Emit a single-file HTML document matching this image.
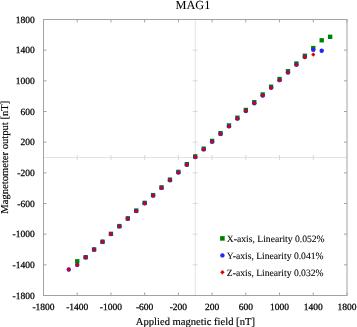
<!DOCTYPE html>
<html><head><meta charset="utf-8"><title>MAG1</title>
<style>html,body{margin:0;padding:0;background:#fff;width:357px;height:327px;overflow:hidden}svg{display:block}text{font-family:"Liberation Serif",serif;text-rendering:geometricPrecision}</style>
</head><body>
<div style="will-change:transform;width:357px;height:327px">
<svg width="357" height="327" viewBox="0 0 357 327">
<rect width="357" height="327" fill="#fff"/>
<line x1="43.5" y1="157.50" x2="347.0" y2="157.50" stroke="#e2e2e2" stroke-width="1"/>
<line x1="195.25" y1="19.5" x2="195.25" y2="295.5" stroke="#e2e2e2" stroke-width="1"/>
<line x1="192.75" y1="50.17" x2="197.75" y2="50.17" stroke="#d8d8d8" stroke-width="1"/>
<line x1="313.28" y1="155.00" x2="313.28" y2="160.00" stroke="#d8d8d8" stroke-width="1"/>
<line x1="192.75" y1="80.83" x2="197.75" y2="80.83" stroke="#d8d8d8" stroke-width="1"/>
<line x1="279.56" y1="155.00" x2="279.56" y2="160.00" stroke="#d8d8d8" stroke-width="1"/>
<line x1="192.75" y1="111.50" x2="197.75" y2="111.50" stroke="#d8d8d8" stroke-width="1"/>
<line x1="245.83" y1="155.00" x2="245.83" y2="160.00" stroke="#d8d8d8" stroke-width="1"/>
<line x1="192.75" y1="142.17" x2="197.75" y2="142.17" stroke="#d8d8d8" stroke-width="1"/>
<line x1="212.11" y1="155.00" x2="212.11" y2="160.00" stroke="#d8d8d8" stroke-width="1"/>
<line x1="192.75" y1="172.83" x2="197.75" y2="172.83" stroke="#d8d8d8" stroke-width="1"/>
<line x1="178.39" y1="155.00" x2="178.39" y2="160.00" stroke="#d8d8d8" stroke-width="1"/>
<line x1="192.75" y1="203.50" x2="197.75" y2="203.50" stroke="#d8d8d8" stroke-width="1"/>
<line x1="144.67" y1="155.00" x2="144.67" y2="160.00" stroke="#d8d8d8" stroke-width="1"/>
<line x1="192.75" y1="234.17" x2="197.75" y2="234.17" stroke="#d8d8d8" stroke-width="1"/>
<line x1="110.94" y1="155.00" x2="110.94" y2="160.00" stroke="#d8d8d8" stroke-width="1"/>
<line x1="192.75" y1="264.83" x2="197.75" y2="264.83" stroke="#d8d8d8" stroke-width="1"/>
<line x1="77.22" y1="155.00" x2="77.22" y2="160.00" stroke="#d8d8d8" stroke-width="1"/>
<line x1="43.5" y1="19.50" x2="46.5" y2="19.50" stroke="#a2a2a2" stroke-width="1"/>
<line x1="347.0" y1="19.50" x2="344.0" y2="19.50" stroke="#a2a2a2" stroke-width="1"/>
<line x1="347.00" y1="295.5" x2="347.00" y2="292.5" stroke="#a2a2a2" stroke-width="1"/>
<line x1="347.00" y1="19.5" x2="347.00" y2="22.5" stroke="#a2a2a2" stroke-width="1"/>
<line x1="43.5" y1="50.17" x2="46.5" y2="50.17" stroke="#a2a2a2" stroke-width="1"/>
<line x1="347.0" y1="50.17" x2="344.0" y2="50.17" stroke="#a2a2a2" stroke-width="1"/>
<line x1="313.28" y1="295.5" x2="313.28" y2="292.5" stroke="#a2a2a2" stroke-width="1"/>
<line x1="313.28" y1="19.5" x2="313.28" y2="22.5" stroke="#a2a2a2" stroke-width="1"/>
<line x1="43.5" y1="80.83" x2="46.5" y2="80.83" stroke="#a2a2a2" stroke-width="1"/>
<line x1="347.0" y1="80.83" x2="344.0" y2="80.83" stroke="#a2a2a2" stroke-width="1"/>
<line x1="279.56" y1="295.5" x2="279.56" y2="292.5" stroke="#a2a2a2" stroke-width="1"/>
<line x1="279.56" y1="19.5" x2="279.56" y2="22.5" stroke="#a2a2a2" stroke-width="1"/>
<line x1="43.5" y1="111.50" x2="46.5" y2="111.50" stroke="#a2a2a2" stroke-width="1"/>
<line x1="347.0" y1="111.50" x2="344.0" y2="111.50" stroke="#a2a2a2" stroke-width="1"/>
<line x1="245.83" y1="295.5" x2="245.83" y2="292.5" stroke="#a2a2a2" stroke-width="1"/>
<line x1="245.83" y1="19.5" x2="245.83" y2="22.5" stroke="#a2a2a2" stroke-width="1"/>
<line x1="43.5" y1="142.17" x2="46.5" y2="142.17" stroke="#a2a2a2" stroke-width="1"/>
<line x1="347.0" y1="142.17" x2="344.0" y2="142.17" stroke="#a2a2a2" stroke-width="1"/>
<line x1="212.11" y1="295.5" x2="212.11" y2="292.5" stroke="#a2a2a2" stroke-width="1"/>
<line x1="212.11" y1="19.5" x2="212.11" y2="22.5" stroke="#a2a2a2" stroke-width="1"/>
<line x1="43.5" y1="172.83" x2="46.5" y2="172.83" stroke="#a2a2a2" stroke-width="1"/>
<line x1="347.0" y1="172.83" x2="344.0" y2="172.83" stroke="#a2a2a2" stroke-width="1"/>
<line x1="178.39" y1="295.5" x2="178.39" y2="292.5" stroke="#a2a2a2" stroke-width="1"/>
<line x1="178.39" y1="19.5" x2="178.39" y2="22.5" stroke="#a2a2a2" stroke-width="1"/>
<line x1="43.5" y1="203.50" x2="46.5" y2="203.50" stroke="#a2a2a2" stroke-width="1"/>
<line x1="347.0" y1="203.50" x2="344.0" y2="203.50" stroke="#a2a2a2" stroke-width="1"/>
<line x1="144.67" y1="295.5" x2="144.67" y2="292.5" stroke="#a2a2a2" stroke-width="1"/>
<line x1="144.67" y1="19.5" x2="144.67" y2="22.5" stroke="#a2a2a2" stroke-width="1"/>
<line x1="43.5" y1="234.17" x2="46.5" y2="234.17" stroke="#a2a2a2" stroke-width="1"/>
<line x1="347.0" y1="234.17" x2="344.0" y2="234.17" stroke="#a2a2a2" stroke-width="1"/>
<line x1="110.94" y1="295.5" x2="110.94" y2="292.5" stroke="#a2a2a2" stroke-width="1"/>
<line x1="110.94" y1="19.5" x2="110.94" y2="22.5" stroke="#a2a2a2" stroke-width="1"/>
<line x1="43.5" y1="264.83" x2="46.5" y2="264.83" stroke="#a2a2a2" stroke-width="1"/>
<line x1="347.0" y1="264.83" x2="344.0" y2="264.83" stroke="#a2a2a2" stroke-width="1"/>
<line x1="77.22" y1="295.5" x2="77.22" y2="292.5" stroke="#a2a2a2" stroke-width="1"/>
<line x1="77.22" y1="19.5" x2="77.22" y2="22.5" stroke="#a2a2a2" stroke-width="1"/>
<line x1="43.5" y1="295.50" x2="46.5" y2="295.50" stroke="#a2a2a2" stroke-width="1"/>
<line x1="347.0" y1="295.50" x2="344.0" y2="295.50" stroke="#a2a2a2" stroke-width="1"/>
<line x1="43.50" y1="295.5" x2="43.50" y2="292.5" stroke="#a2a2a2" stroke-width="1"/>
<line x1="43.50" y1="19.5" x2="43.50" y2="22.5" stroke="#a2a2a2" stroke-width="1"/>
<rect x="43.5" y="19.5" width="303.5" height="276.0" fill="none" stroke="#a2a2a2" stroke-width="1"/>
<rect x="75.05" y="259.13" width="4.35" height="4.35" fill="#008000"/>
<rect x="83.48" y="255.09" width="4.35" height="4.35" fill="#008000"/>
<rect x="91.91" y="247.35" width="4.35" height="4.35" fill="#008000"/>
<rect x="100.34" y="239.61" width="4.35" height="4.35" fill="#008000"/>
<rect x="108.77" y="231.64" width="4.35" height="4.35" fill="#008000"/>
<rect x="117.20" y="223.90" width="4.35" height="4.35" fill="#008000"/>
<rect x="125.63" y="216.16" width="4.35" height="4.35" fill="#008000"/>
<rect x="134.06" y="208.42" width="4.35" height="4.35" fill="#008000"/>
<rect x="142.49" y="200.68" width="4.35" height="4.35" fill="#008000"/>
<rect x="150.92" y="192.94" width="4.35" height="4.35" fill="#008000"/>
<rect x="159.35" y="185.20" width="4.35" height="4.35" fill="#008000"/>
<rect x="167.78" y="177.45" width="4.35" height="4.35" fill="#008000"/>
<rect x="176.21" y="169.71" width="4.35" height="4.35" fill="#008000"/>
<rect x="184.64" y="161.97" width="4.35" height="4.35" fill="#008000"/>
<rect x="193.07" y="154.23" width="4.35" height="4.35" fill="#008000"/>
<rect x="201.51" y="146.49" width="4.35" height="4.35" fill="#008000"/>
<rect x="209.94" y="138.75" width="4.35" height="4.35" fill="#008000"/>
<rect x="218.37" y="131.01" width="4.35" height="4.35" fill="#008000"/>
<rect x="226.80" y="123.27" width="4.35" height="4.35" fill="#008000"/>
<rect x="235.23" y="115.53" width="4.35" height="4.35" fill="#008000"/>
<rect x="243.66" y="107.78" width="4.35" height="4.35" fill="#008000"/>
<rect x="252.09" y="100.04" width="4.35" height="4.35" fill="#008000"/>
<rect x="260.52" y="92.30" width="4.35" height="4.35" fill="#008000"/>
<rect x="268.95" y="84.56" width="4.35" height="4.35" fill="#008000"/>
<rect x="277.38" y="76.82" width="4.35" height="4.35" fill="#008000"/>
<rect x="285.81" y="69.08" width="4.35" height="4.35" fill="#008000"/>
<rect x="294.24" y="61.34" width="4.35" height="4.35" fill="#008000"/>
<rect x="302.67" y="53.60" width="4.35" height="4.35" fill="#008000"/>
<rect x="311.10" y="45.86" width="4.35" height="4.35" fill="#008000"/>
<rect x="319.53" y="38.12" width="4.35" height="4.35" fill="#008000"/>
<rect x="327.96" y="34.65" width="4.35" height="4.35" fill="#008000"/>
<circle cx="68.79" cy="269.43" r="2.2" fill="#2424ff"/>
<circle cx="77.22" cy="264.88" r="2.2" fill="#2424ff"/>
<circle cx="85.65" cy="257.18" r="2.2" fill="#2424ff"/>
<circle cx="94.08" cy="249.48" r="2.2" fill="#2424ff"/>
<circle cx="102.51" cy="241.79" r="2.2" fill="#2424ff"/>
<circle cx="110.94" cy="234.09" r="2.2" fill="#2424ff"/>
<circle cx="119.38" cy="226.39" r="2.2" fill="#2424ff"/>
<circle cx="127.81" cy="218.70" r="2.2" fill="#2424ff"/>
<circle cx="136.24" cy="211.00" r="2.2" fill="#2424ff"/>
<circle cx="144.67" cy="203.30" r="2.2" fill="#2424ff"/>
<circle cx="153.10" cy="195.60" r="2.2" fill="#2424ff"/>
<circle cx="161.53" cy="187.91" r="2.2" fill="#2424ff"/>
<circle cx="169.96" cy="180.21" r="2.2" fill="#2424ff"/>
<circle cx="178.39" cy="172.51" r="2.2" fill="#2424ff"/>
<circle cx="186.82" cy="164.81" r="2.2" fill="#2424ff"/>
<circle cx="195.25" cy="157.12" r="2.2" fill="#2424ff"/>
<circle cx="203.68" cy="149.42" r="2.2" fill="#2424ff"/>
<circle cx="212.11" cy="141.72" r="2.2" fill="#2424ff"/>
<circle cx="220.54" cy="134.02" r="2.2" fill="#2424ff"/>
<circle cx="228.97" cy="126.33" r="2.2" fill="#2424ff"/>
<circle cx="237.40" cy="118.63" r="2.2" fill="#2424ff"/>
<circle cx="245.83" cy="110.93" r="2.2" fill="#2424ff"/>
<circle cx="254.26" cy="103.24" r="2.2" fill="#2424ff"/>
<circle cx="262.69" cy="95.54" r="2.2" fill="#2424ff"/>
<circle cx="271.12" cy="87.84" r="2.2" fill="#2424ff"/>
<circle cx="279.56" cy="80.14" r="2.2" fill="#2424ff"/>
<circle cx="287.99" cy="72.45" r="2.2" fill="#2424ff"/>
<circle cx="296.42" cy="64.75" r="2.2" fill="#2424ff"/>
<circle cx="304.85" cy="57.05" r="2.2" fill="#2424ff"/>
<circle cx="313.28" cy="49.86" r="2.2" fill="#2424ff"/>
<circle cx="321.71" cy="50.70" r="2.2" fill="#2424ff"/>
<path d="M68.79 267.33L70.89 269.43L68.79 271.53L66.69 269.43Z" fill="#dd0000"/>
<path d="M77.22 262.78L79.32 264.88L77.22 266.98L75.12 264.88Z" fill="#dd0000"/>
<path d="M85.65 255.08L87.75 257.18L85.65 259.28L83.55 257.18Z" fill="#dd0000"/>
<path d="M94.08 247.38L96.18 249.48L94.08 251.58L91.98 249.48Z" fill="#dd0000"/>
<path d="M102.51 239.69L104.61 241.79L102.51 243.89L100.41 241.79Z" fill="#dd0000"/>
<path d="M110.94 231.99L113.04 234.09L110.94 236.19L108.84 234.09Z" fill="#dd0000"/>
<path d="M119.38 224.29L121.47 226.39L119.38 228.49L117.28 226.39Z" fill="#dd0000"/>
<path d="M127.81 216.60L129.91 218.70L127.81 220.80L125.71 218.70Z" fill="#dd0000"/>
<path d="M136.24 208.90L138.34 211.00L136.24 213.10L134.14 211.00Z" fill="#dd0000"/>
<path d="M144.67 201.20L146.77 203.30L144.67 205.40L142.57 203.30Z" fill="#dd0000"/>
<path d="M153.10 193.50L155.20 195.60L153.10 197.70L151.00 195.60Z" fill="#dd0000"/>
<path d="M161.53 185.81L163.63 187.91L161.53 190.01L159.43 187.91Z" fill="#dd0000"/>
<path d="M169.96 178.11L172.06 180.21L169.96 182.31L167.86 180.21Z" fill="#dd0000"/>
<path d="M178.39 170.41L180.49 172.51L178.39 174.61L176.29 172.51Z" fill="#dd0000"/>
<path d="M186.82 162.71L188.92 164.81L186.82 166.91L184.72 164.81Z" fill="#dd0000"/>
<path d="M195.25 155.02L197.35 157.12L195.25 159.22L193.15 157.12Z" fill="#dd0000"/>
<path d="M203.68 147.32L205.78 149.42L203.68 151.52L201.58 149.42Z" fill="#dd0000"/>
<path d="M212.11 139.62L214.21 141.72L212.11 143.82L210.01 141.72Z" fill="#dd0000"/>
<path d="M220.54 131.92L222.64 134.02L220.54 136.12L218.44 134.02Z" fill="#dd0000"/>
<path d="M228.97 124.23L231.07 126.33L228.97 128.43L226.87 126.33Z" fill="#dd0000"/>
<path d="M237.40 116.53L239.50 118.63L237.40 120.73L235.30 118.63Z" fill="#dd0000"/>
<path d="M245.83 108.83L247.93 110.93L245.83 113.03L243.73 110.93Z" fill="#dd0000"/>
<path d="M254.26 101.14L256.36 103.24L254.26 105.34L252.16 103.24Z" fill="#dd0000"/>
<path d="M262.69 93.44L264.79 95.54L262.69 97.64L260.59 95.54Z" fill="#dd0000"/>
<path d="M271.12 85.74L273.23 87.84L271.12 89.94L269.02 87.84Z" fill="#dd0000"/>
<path d="M279.56 78.04L281.66 80.14L279.56 82.24L277.46 80.14Z" fill="#dd0000"/>
<path d="M287.99 70.35L290.09 72.45L287.99 74.55L285.89 72.45Z" fill="#dd0000"/>
<path d="M296.42 62.65L298.52 64.75L296.42 66.85L294.32 64.75Z" fill="#dd0000"/>
<path d="M304.85 54.95L306.95 57.05L304.85 59.15L302.75 57.05Z" fill="#dd0000"/>
<path d="M313.28 52.44L315.38 54.54L313.28 56.64L311.18 54.54Z" fill="#dd0000"/>
<rect x="220.10" y="236.10" width="4.6" height="4.6" fill="#008000"/>
<circle cx="222.40" cy="255.40" r="2.2" fill="#2424ff"/>
<path d="M222.40 270.00L224.60 272.20L222.40 274.40L220.20 272.20Z" fill="#dd0000"/>
<g font-family="Liberation Serif, serif" fill="#000" stroke="#000" stroke-width="0.15">
<text x="34.7" y="22.75" text-anchor="end" font-size="9.5" stroke-width="0.25">1800</text>
<text x="347.00" y="310.1" text-anchor="middle" font-size="9.5" stroke-width="0.25">1800</text>
<text x="34.7" y="53.42" text-anchor="end" font-size="9.5" stroke-width="0.25">1400</text>
<text x="313.28" y="310.1" text-anchor="middle" font-size="9.5" stroke-width="0.25">1400</text>
<text x="34.7" y="84.08" text-anchor="end" font-size="9.5" stroke-width="0.25">1000</text>
<text x="279.56" y="310.1" text-anchor="middle" font-size="9.5" stroke-width="0.25">1000</text>
<text x="34.7" y="114.75" text-anchor="end" font-size="9.5" stroke-width="0.25">600</text>
<text x="245.83" y="310.1" text-anchor="middle" font-size="9.5" stroke-width="0.25">600</text>
<text x="34.7" y="145.42" text-anchor="end" font-size="9.5" stroke-width="0.25">200</text>
<text x="212.11" y="310.1" text-anchor="middle" font-size="9.5" stroke-width="0.25">200</text>
<text x="34.7" y="176.08" text-anchor="end" font-size="9.5" stroke-width="0.25">-200</text>
<text x="178.39" y="310.1" text-anchor="middle" font-size="9.5" stroke-width="0.25">-200</text>
<text x="34.7" y="206.75" text-anchor="end" font-size="9.5" stroke-width="0.25">-600</text>
<text x="144.67" y="310.1" text-anchor="middle" font-size="9.5" stroke-width="0.25">-600</text>
<text x="34.7" y="237.42" text-anchor="end" font-size="9.5" stroke-width="0.25">-1000</text>
<text x="110.94" y="310.1" text-anchor="middle" font-size="9.5" stroke-width="0.25">-1000</text>
<text x="34.7" y="268.08" text-anchor="end" font-size="9.5" stroke-width="0.25">-1400</text>
<text x="77.22" y="310.1" text-anchor="middle" font-size="9.5" stroke-width="0.25">-1400</text>
<text x="34.7" y="298.75" text-anchor="end" font-size="9.5" stroke-width="0.25">-1800</text>
<text x="43.50" y="310.1" text-anchor="middle" font-size="9.5" stroke-width="0.25">-1800</text>
<text x="175.5" y="9" font-size="12.3" stroke-width="0.05">MAG1</text>
<text x="135.8" y="324.8" font-size="10.6">Applied magnetic field [nT]</text>
<text transform="translate(7.5 213.7) rotate(-90)" x="0" y="0" font-size="10.6">Magnetometer output [nT]</text>
<text x="226.8" y="241.70" font-size="9.65" stroke-width="0.08">X-axis, Linearity 0.052%</text>
<text x="226.8" y="258.70" font-size="9.65" stroke-width="0.08">Y-axis, Linearity 0.041%</text>
<text x="226.8" y="275.50" font-size="9.65" stroke-width="0.08">Z-axis, Linearity 0.032%</text>
</g>
</svg>
</div>
</body></html>
